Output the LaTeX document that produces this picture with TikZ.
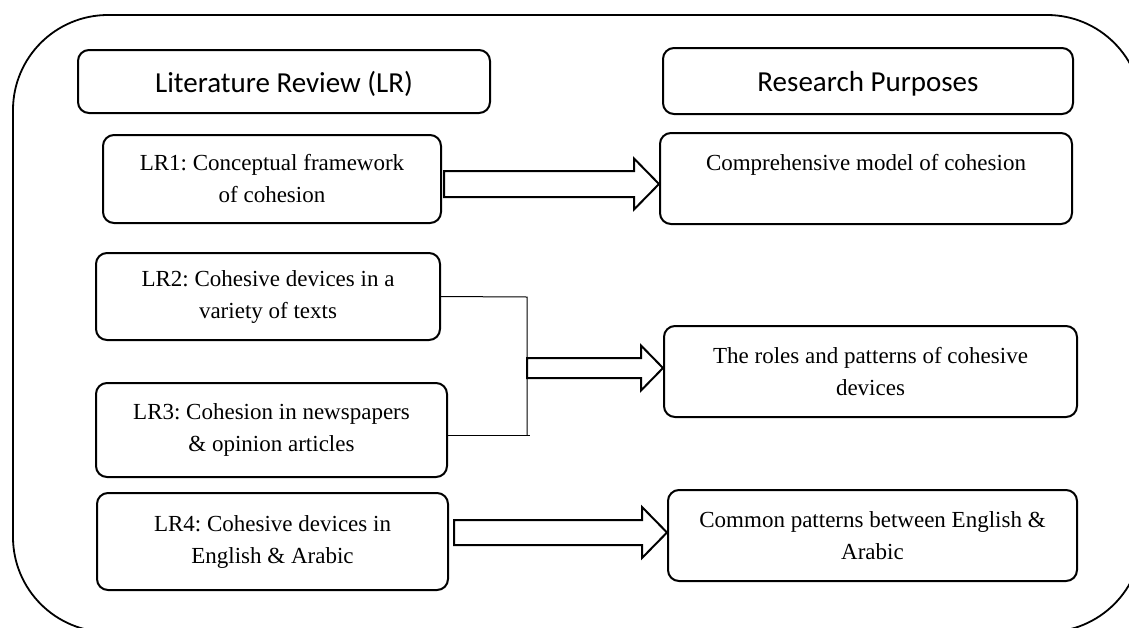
\documentclass[tikz,border=0pt]{standalone}
\usepackage{fontspec}
\setmainfont{Liberation Serif}
\newfontfamily\headfont{Carlito}
\usetikzlibrary{calc}
\frenchspacing

\tikzset{
  box/.style={draw, line width=2pt, rounded corners=11pt, inner sep=0pt,
    align=center, font=\fontsize{23}{32}\selectfont},
  headbox/.style={box, text height=29pt, text depth=8pt,
    font=\headfont\fontsize{29}{34}\selectfont},
  frame/.style={draw, line width=1.8pt, rounded corners=95pt},
  blockarrow/.style={draw, line width=2pt, fill=white, line join=miter},
  joinline/.style={draw, line width=1pt}
}

% hollow block arrow: tail, tip, half shaft width, half head width, head length
\newcommand{\blockarr}[5]{%
  \draw[blockarrow] ($(#1)+(0,-#3)$) -- ($(#2)+(-#5,-#3)$) -- ($(#2)+(-#5,-#4)$)
    -- (#2) -- ($(#2)+(-#5,#4)$) -- ($(#2)+(-#5,#3)$) -- ($(#1)+(0,#3)$) -- cycle;}

\begin{document}
\begin{tikzpicture}[x=1pt, y=-1pt]
  \useasboundingbox (0,0) rectangle (1129,627);

  % outer rounded frame, running past the page edge on the right and bottom
  \begin{scope}
    \clip (0,0) rectangle (1129,627);
    \draw[frame] (13,15) rectangle (1142,632);
  \end{scope}

  % column headings
  \node[headbox, minimum width=412pt, minimum height=63pt] (lrh) at (284,81.5) {Literature Review (LR)};
  \node[headbox, minimum width=410pt, minimum height=66pt] (rph) at (868,81) {Research Purposes};

  % literature review items
  \node[box, minimum width=338pt, minimum height=88pt] (lr1) at (272,179)
    {LR1: Conceptual framework\\of cohesion};
  \node[box, minimum width=344pt, minimum height=87pt] (lr2) at (268,296.5)
    {LR2: Cohesive devices in a\\variety of texts};
  \node[box, minimum width=351pt, minimum height=94pt] (lr3) at (271.5,430)
    {LR3: Cohesion in newspapers\\\& opinion articles};
  \node[box, minimum width=351pt, minimum height=97pt] (lr4) at (272.5,541.5)
    {LR4: Cohesive devices in\\English \& Arabic};

  % research purposes
  \node[box, minimum width=412pt, minimum height=91pt] (comp) at (866,178.5)
    {Comprehensive model of cohesion\\\mbox{}};
  \node[box, minimum width=413pt, minimum height=91pt] (roles) at (870.5,371.5)
    {The roles and patterns of cohesive\\devices};
  \node[box, minimum width=409pt, minimum height=91pt] (common) at (872.5,535.5)
    {Common patterns between English \&\\Arabic};

  % bracket joining LR2 and LR3
  \coordinate (jt) at (527,297);
  \coordinate (jb) at (527,435);
  \coordinate (jm) at (527,368);
  \coordinate (jbx) at (530,435);
  \draw[joinline] (lr2.east) -- (jt) -- (jb);
  \draw[joinline] ([yshift=-5pt]lr3.east) -- (jbx);

  % arrows
  \coordinate (a1s) at ($(lr1.east)+(2,5)$);
  \coordinate (a1e) at (comp.west |- a1s);
  \blockarr{a1s}{a1e}{13}{25.5}{25}

  \coordinate (a2e) at (roles.west |- jm);
  \blockarr{jm}{a2e}{10}{22.5}{22}

  \coordinate (a3s) at ($(lr4.east)+(5,-9)$);
  \coordinate (a3e) at (common.west |- a3s);
  \blockarr{a3s}{a3e}{12.5}{25.5}{25}
\end{tikzpicture}
\end{document}
